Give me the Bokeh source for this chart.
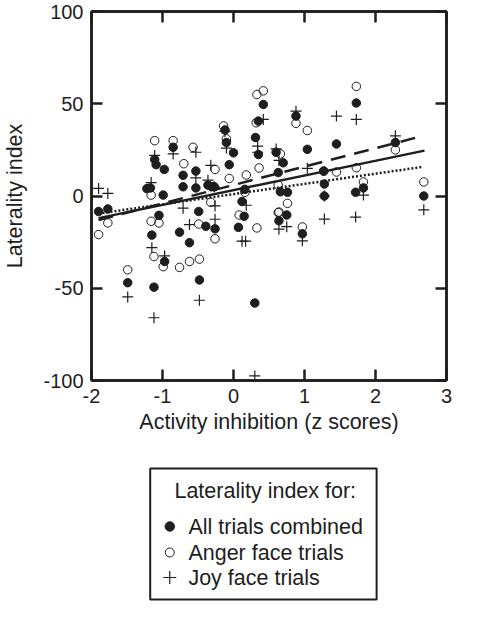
from bokeh.plotting import figure
from bokeh.models import LinearAxis, FixedTicker, Range1d, CustomLabelingPolicy
from bokeh.layouts import column
from bokeh.core.properties import value
from bokeh.embed import file_html
from bokeh.resources import INLINE

# ---------------- data ----------------
all_x = [-1.90, -1.77, -1.49, -1.22, -1.17, -1.15, -1.12, -1.11, -1.09, -1.05,
         -0.99, -0.975, -0.97, -0.85, -0.76, -0.71, -0.71, -0.62, -0.53, -0.53,
         -0.49, -0.48, -0.39, -0.36, -0.31, -0.26, -0.27, -0.12, -0.10, 0.00,
         -0.06, 0.07, 0.12, 0.15, 0.16, 0.30, 0.31, 0.35, 0.42, 0.35,
         0.60, 0.63, 0.70, 0.66, 0.76, 0.64, 0.75, 0.88, 0.97, 1.04,
         1.27, 1.28, 1.28, 1.45, 1.73, 1.72, 1.83, 2.28, 2.68]
all_y = [-8.4, -7.0, -47.0, 4.0, 4.4, -21.2, -49.4, 19.8, 17.0, -10.5,
         0.5, 14.4, -35.5, 26.4, -19.6, 11.2, 5.0, -25.3, 13.5, 4.4,
         -8.4, -45.5, -16.4, 5.9, 5.0, -17.8, 5.0, 35.8, 29.0, 23.4,
         17.0, -17.0, -3.0, -11.0, 3.6, -58.0, 31.7, 40.6, 49.6, 22.5,
         23.7, 12.7, 18.0, 2.3, 2.0, -13.4, -10.3, 43.3, -20.5, 25.3,
         13.5, 6.5, 0.0, 28.2, 50.4, 2.0, 4.4, 29.0, 0.0]

anger_x = [-1.90, -1.77, -1.49, -1.16, -1.16, -1.12, -1.11, -1.05, -0.99, -0.85,
           -0.76, -0.70, -0.62, -0.57, -0.49, -0.48, -0.32, -0.26, -0.26, -0.14,
           -0.10, -0.06, 0.08, 0.16, 0.18, 0.33, 0.33, 0.42, 0.32, 0.36,
           0.63, 0.66, 0.64, 0.76, 0.63, 0.88, 0.97, 1.04, 1.27, 1.45,
           1.73, 1.73, 1.83, 2.28, 2.68]
anger_y = [-20.9, -14.6, -40.0, 0.5, -13.7, -32.8, 30.0, -14.6, -38.3, 30.0,
           -38.7, 17.5, -35.5, 26.4, -15.2, -34.2, -3.4, 14.4, -23.2, 38.0,
           31.0, 9.5, -10.3, 2.0, 11.4, -17.3, 55.0, 57.0, 39.7, 15.2,
           5.9, 22.8, -8.7, -4.0, -9.0, 39.4, -16.8, 35.5, 13.5, 13.0,
           59.4, 15.3, 7.6, 25.0, 7.6]

joy_x = [-1.90, -1.77, -1.49, -1.16, -1.15, -1.12, -1.11, -0.97, -0.85, -0.71,
         -0.62, -0.53, -0.53, -0.48, -0.36, -0.32, -0.26, -0.26, -0.27, -0.12,
         -0.10, 0.18, 0.12, 0.17, 0.30, 0.34, 0.34, 0.42, 0.60, 0.64,
         0.64, 0.75, 0.88, 0.97, 1.04, 1.28, 1.28, 1.45, 1.73, 1.72,
         1.83, 2.28, 2.68]
joy_y = [4.1, 1.4, -54.7, 7.3, -28.0, -66.0, 22.0, -32.5, 22.8, -6.6,
         -15.5, 23.7, 9.8, -56.5, 8.6, 16.6, -5.4, -12.6, 5.0, 35.0,
         26.0, -5.0, -24.5, -24.5, -97.5, 23.7, 27.0, 41.5, 25.5, 19.3,
         -18.0, -16.6, 46.0, -24.3, 15.0, 0.0, -12.5, 43.3, 41.5, -11.4,
         0.5, 32.6, -7.5]

# regression line end points
fit_all_x = [-1.90, 2.69]
fit_all_y = [-12.0, 24.6]
fit_joy_x = [-1.90, 2.58]
fit_joy_y = [-13.0, 31.7]
fit_anger_x = [-1.90, 2.65]
fit_anger_y = [-9.5, 15.7]

x_ticks = [-2, -1, 0, 1, 2, 3]
y_ticks = [-100, -50, 0, 50, 100]

x_label = "Activity inhibition (z scores)"
y_label = "Laterality index"
legend_title = "Laterality index for:"
legend_labels = ["All trials combined", "Anger face trials", "Joy face trials"]

# ---------------- styling ----------------
INK = "#1e1e1e"
FONT = "Liberation Sans"
TICK_FS = "20px"
LABEL_FS = "21.5px"

FIG_W, FIG_H = 474, 450
B_LEFT, B_RIGHT, B_TOP, B_BOTTOM = 91, 2, 11, 70

p = figure(width=FIG_W, height=FIG_H, x_range=Range1d(-2, 3), y_range=Range1d(-100, 100),
           output_backend="svg", toolbar_location=None,
           min_border_left=B_LEFT, min_border_right=B_RIGHT,
           min_border_top=B_TOP, min_border_bottom=B_BOTTOM,
           x_axis_location=None, y_axis_location=None)
p.xgrid.visible = False
p.ygrid.visible = False
p.outline_line_color = INK
p.outline_line_width = 2.5
p.background_fill_color = "white"
p.border_fill_color = "white"


def no_labels():
    return CustomLabelingPolicy(code="""
for (const i of indices) {
    indices.unset(i)
}
return indices
""")


def style_axis(ax, ticks, show_labels):
    ax.ticker = FixedTicker(ticks=ticks)
    ax.axis_line_color = INK
    ax.axis_line_width = 2.5
    ax.major_tick_line_color = INK
    ax.major_tick_line_width = 2.5
    ax.major_tick_in = 11
    ax.major_tick_out = 0
    ax.minor_tick_line_color = None
    if show_labels:
        ax.major_label_text_font = FONT
        ax.major_label_text_font_size = TICK_FS
        ax.major_label_text_color = INK
        ax.major_label_overrides = {t: str(t) for t in ticks}   # hyphen minus, as in the reference
        ax.axis_label_text_font = FONT
        ax.axis_label_text_font_size = LABEL_FS
        ax.axis_label_text_font_style = "normal"
        ax.axis_label_text_color = INK
    else:
        ax.major_label_policy = no_labels()
        ax.major_label_standoff = 0


bottom = LinearAxis(axis_label=x_label)
style_axis(bottom, x_ticks, True)
bottom.major_label_standoff = 8
bottom.axis_label_standoff = 4
left = LinearAxis(axis_label=y_label)
style_axis(left, y_ticks, True)
left.major_label_standoff = 8
left.axis_label_standoff = 13
top = LinearAxis()
style_axis(top, x_ticks, False)
right = LinearAxis()
style_axis(right, y_ticks, False)

p.add_layout(bottom, "below")
p.add_layout(left, "left")
p.add_layout(top, "above")
p.add_layout(right, "right")

# markers
p.scatter(all_x, all_y, marker="circle", size=8.5, fill_color=INK, line_color=INK, line_width=1)
p.scatter(anger_x, anger_y, marker="circle", size=8.5, fill_color=None, line_color=INK, line_width=1)
p.scatter(joy_x, joy_y, marker="cross", size=11, line_color=INK, line_width=1.2)

# regression lines
p.line(fit_joy_x, fit_joy_y, line_color=INK, line_width=2.5, line_dash="15 9")
p.line(fit_all_x, fit_all_y, line_color=INK, line_width=2.5)
p.line(fit_anger_x, fit_anger_y, line_color=INK, line_width=2.5, line_dash="2 2")

# ---------------- legend panel (coordinates = page pixels) ----------------
LH = 151
top_px = 8 + FIG_H
# this figure's frame is aligned with the main frame in the column layout
q = figure(width=FIG_W, height=LH,
           x_range=Range1d(8 + B_LEFT, 8 + FIG_W - B_RIGHT),
           y_range=Range1d(top_px + LH, top_px),
           output_backend="svg", toolbar_location=None,
           min_border=0, x_axis_location=None, y_axis_location=None)
q.xgrid.visible = False
q.ygrid.visible = False
q.outline_line_color = None
q.background_fill_color = "white"
q.border_fill_color = "white"

box_l, box_r, box_t, box_b = 162, 405, 476, 607
q.quad(left=[box_l], right=[box_r], top=[box_t], bottom=[box_b],
       fill_color=None, line_color=INK, line_width=2)
q.text(x=[(box_l + box_r) / 2 + 2], y=[498], text=[legend_title], text_align="center",
       text_baseline="middle", text_font=value(FONT), text_font_size=LABEL_FS, text_color=INK)
item_y = [534, 560, 585]
q.text(x=[203] * 3, y=item_y, text=legend_labels, text_align="left",
       text_baseline="middle", text_font=value(FONT), text_font_size=LABEL_FS, text_color=INK)
q.scatter([183], [item_y[0]], marker="circle", size=9.5, fill_color=INK, line_color=INK)
q.scatter([183], [item_y[1]], marker="circle", size=9, fill_color=None, line_color=INK, line_width=1)
q.scatter([183], [item_y[2]], marker="cross", size=13, line_color=INK, line_width=1.2)

layout = column(p, q)
open("out.html", "w").write(file_html(layout, INLINE))
